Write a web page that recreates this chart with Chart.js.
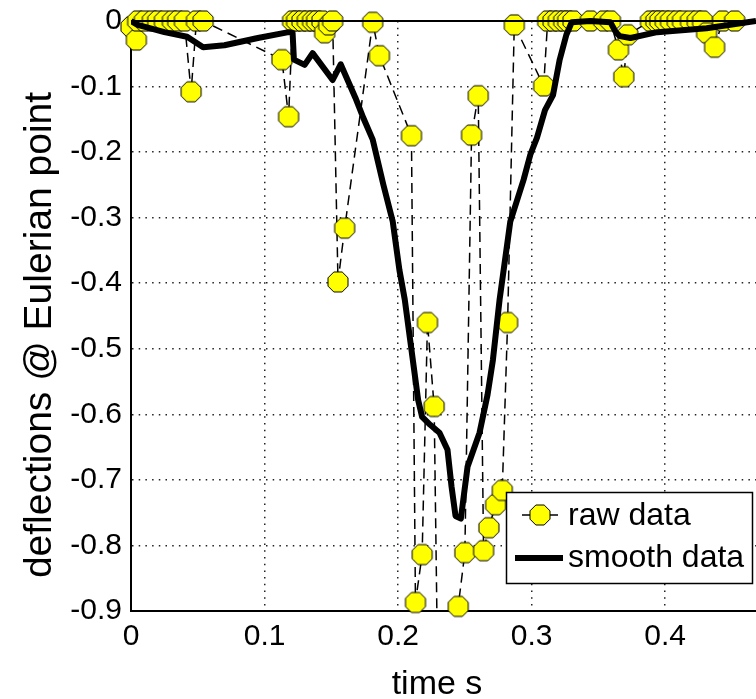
<!DOCTYPE html>
<html>
<head>
<meta charset="utf-8">
<script src="https://cdn.jsdelivr.net/npm/chart.js@4/dist/chart.umd.min.js"></script>
<style>
  html, body { margin: 0; padding: 0; background: #fff; overflow: hidden; }
  #wrap { width: 756px; height: 699px; position: relative; }
</style>
</head>
<body>
<div id="wrap"><canvas id="defl"></canvas></div>
<script>
// raw samples (time in s, deflection at the Eulerian point)
const rawTime = [0, 0.004, 0.005, 0.010, 0.016, 0.020, 0.025, 0.031, 0.035, 0.040,
  0.045, 0.049, 0.054,
  0.113, 0.118, 0.121, 0.124, 0.128, 0.132, 0.136, 0.139, 0.143, 0.145, 0.148, 0.151,
  0.155, 0.160, 0.181, 0.186,
  0.210, 0.213, 0.218, 0.222, 0.227, 0.230,
  0.245, 0.250, 0.255, 0.260, 0.264, 0.268, 0.273, 0.278, 0.282, 0.287,
  0.309, 0.312, 0.316, 0.320, 0.324, 0.327, 0.331,
  0.344, 0.354, 0.359,
  0.365, 0.369, 0.372,
  0.389, 0.393, 0.396, 0.400, 0.404, 0.409, 0.413, 0.419, 0.424, 0.428,
  0.431, 0.437, 0.443, 0.452];
const rawDefl = [-0.009, -0.029, 0, 0, 0, 0, 0, 0, 0, 0,
  -0.108, 0, 0,
  -0.059, -0.146, 0, 0, 0, 0, 0, 0, 0, -0.018, -0.006, 0,
  -0.398, -0.316, -0.002, -0.053,
  -0.175, -0.887, -0.814, -0.460, -0.588, -1.05,
  -0.893, -0.811, -0.174, -0.114, -0.808, -0.773, -0.738, -0.716, -0.460, -0.006,
  -0.099, 0, 0, 0, 0, 0, 0,
  0, 0, 0,
  -0.044, -0.085, -0.021,
  0, 0, 0, 0, 0, 0, 0, 0, 0, 0,
  -0.018, -0.040, 0, 0];

// smoothed curve
const smoothTime = [0, 0.005, 0.025, 0.042, 0.054, 0.070, 0.095, 0.118, 0.121, 0.122,
  0.130, 0.136, 0.151, 0.157, 0.168, 0.174, 0.181, 0.189, 0.196, 0.201, 0.205,
  0.209, 0.212, 0.215, 0.218, 0.224, 0.231, 0.237, 0.240, 0.243, 0.247,
  0.252, 0.261, 0.267, 0.271, 0.276, 0.284, 0.294, 0.299, 0.304, 0.310,
  0.316, 0.321, 0.326, 0.330, 0.344, 0.359, 0.363, 0.366, 0.374, 0.394, 0.431, 0.468];
const smoothDefl = [0, -0.006, -0.017, -0.024, -0.040, -0.037, -0.026, -0.017, -0.018, -0.059,
  -0.067, -0.049, -0.090, -0.066, -0.117, -0.148, -0.181, -0.250, -0.306, -0.380, -0.425,
  -0.486, -0.532, -0.578, -0.604, -0.616, -0.628, -0.654, -0.710, -0.755, -0.759,
  -0.680, -0.628, -0.570, -0.517, -0.425, -0.306, -0.242, -0.204, -0.178, -0.136,
  -0.113, -0.059, -0.021, -0.002, 0, -0.002, -0.017, -0.023, -0.026, -0.017, -0.011, 0];

const xTicks = [0, 0.1, 0.2, 0.3, 0.4];
const yTicks = [0, -0.1, -0.2, -0.3, -0.4, -0.5, -0.6, -0.7, -0.8, -0.9];

const FONT = '"Liberation Sans", Arial, Helvetica, sans-serif';
Chart.defaults.font.family = FONT;
Chart.defaults.color = '#000';

// yellow octagon marker
function makeOctagon(r) {
  const R = r / Math.cos(Math.PI / 8);
  const s = Math.ceil(2 * R) + 2;
  const c = document.createElement('canvas');
  c.width = c.height = s;
  const g = c.getContext('2d');
  g.beginPath();
  for (let k = 0; k < 8; k++) {
    const a = Math.PI / 8 + k * Math.PI / 4;
    const px = s / 2 + R * Math.cos(a), py = s / 2 + R * Math.sin(a);
    k ? g.lineTo(px, py) : g.moveTo(px, py);
  }
  g.closePath();
  g.fillStyle = '#ffff00';
  g.fill();
  g.lineWidth = 1;
  g.strokeStyle = '#000';
  g.stroke();
  return c;
}
const octagon = makeOctagon(10);

const rawPts = rawTime.map((t, i) => ({ x: t, y: rawDefl[i] }));
const smoothPts = smoothTime.map((t, i) => ({ x: t, y: smoothDefl[i] }));

// top edge of the axes box, drawn over the data
const topEdge = {
  id: 'topEdge',
  afterDatasetsDraw(chart) {
    const { ctx, chartArea: a } = chart;
    ctx.save();
    ctx.strokeStyle = '#000';
    ctx.lineWidth = 2;
    ctx.beginPath();
    ctx.moveTo(a.left, a.top);
    ctx.lineTo(a.right, a.top);
    ctx.stroke();
    ctx.restore();
  }
};

// axis titles, placed by hand (wider spacing than the scale title would give)
const axisTitles = {
  id: 'axisTitles',
  afterDraw(chart) {
    const { ctx } = chart;
    const sx = chart.options.scales.x.title, sy = chart.options.scales.y.title;
    ctx.save();
    ctx.fillStyle = '#000';
    ctx.textAlign = 'center';
    ctx.textBaseline = 'alphabetic';
    ctx.font = '34px ' + FONT;
    ctx.fillText(sx.text, 437, 694);
    ctx.translate(51, 335);
    ctx.rotate(-Math.PI / 2);
    ctx.font = '39px ' + FONT;
    ctx.fillText(sy.text, 0, 0);
    ctx.restore();
  }
};

// legend box in the lower right corner
const legendBox = {
  id: 'legendBox',
  afterDraw(chart) {
    const { ctx, chartArea: a } = chart;
    const ds = chart.data.datasets;
    const x = a.right - 250, y = a.bottom - 119, w = 246, h = 91;
    ctx.save();
    ctx.fillStyle = '#fff';
    ctx.fillRect(x, y, w, h);
    ctx.strokeStyle = '#000';
    ctx.lineWidth = 1.5;
    ctx.strokeRect(x + 0.5, y + 0.5, w, h);

    const r1 = y + 23, r2 = y + 66;
    ctx.lineWidth = 1.5;
    ctx.beginPath();
    ctx.moveTo(x + 16, r1);
    ctx.lineTo(x + 52, r1);
    ctx.stroke();
    ctx.drawImage(octagon, x + 34 - octagon.width / 2, r1 - octagon.height / 2);

    ctx.lineWidth = 6;
    ctx.beginPath();
    ctx.moveTo(x + 9, r2);
    ctx.lineTo(x + 57, r2);
    ctx.stroke();

    ctx.fillStyle = '#000';
    ctx.font = '32px ' + FONT;
    ctx.textBaseline = 'middle';
    ctx.fillText(ds[2].label, x + 62, r1 + 1);
    ctx.fillText(ds[0].label, x + 62, r2);
    ctx.restore();
  }
};

new Chart(document.getElementById('defl'), {
  type: 'line',
  data: {
    datasets: [
      {
        label: 'smooth data',
        data: smoothPts,
        borderColor: '#000',
        borderWidth: 6,
        borderJoinStyle: 'round',
        pointRadius: 0,
        tension: 0,
        clip: { left: 0, top: 4, right: 0, bottom: 0 },
        order: 0
      },
      {
        label: 'raw data',
        data: rawPts,
        showLine: false,
        pointStyle: octagon,
        pointRadius: 10,
        clip: { left: 12, top: 12, right: 12, bottom: 10 },
        order: 1
      },
      {
        label: 'raw data',
        data: rawPts,
        borderColor: '#000',
        borderWidth: 1.5,
        borderDash: [10, 6],
        pointRadius: 0,
        tension: 0,
        clip: { left: 0, top: 2, right: 0, bottom: 0 },
        order: 2
      }
    ]
  },
  options: {
    responsive: true,
    maintainAspectRatio: false,
    devicePixelRatio: 1,
    animation: false,
    layout: { autoPadding: false, padding: { top: 21, right: 0, bottom: 0, left: 0 } },
    plugins: { legend: { display: false }, tooltip: { enabled: false } },
    scales: {
      x: {
        type: 'linear',
        min: 0,
        max: 0.468,
        afterFit: s => { s.height = 88; s.paddingLeft = 0; s.paddingRight = 0; },
        afterBuildTicks: s => { s.ticks = xTicks.map(v => ({ value: v })); },
        ticks: {
          includeBounds: false,
          padding: 8,
          font: { size: 30 },
          callback: v => String(v)
        },
        grid: { color: '#222', lineWidth: 1.5, drawTicks: false },
        border: { display: true, color: '#000', width: 2, dash: [1.5, 5.2] },
        title: { display: false, text: 'time s' }
      },
      y: {
        type: 'linear',
        min: -0.9,
        max: 0,
        afterFit: s => { s.width = 131; s.paddingTop = 0; s.paddingBottom = 0; },
        afterBuildTicks: s => { s.ticks = yTicks.map(v => ({ value: v })); },
        ticks: {
          padding: 9,
          font: { size: 30 },
          callback: v => (v === 0 ? '0' : v.toFixed(1))
        },
        grid: { color: '#222', lineWidth: 1.5, drawTicks: false },
        border: { display: true, color: '#000', width: 2, dash: [1.5, 5.2] },
        title: { display: false, text: 'deflections @ Eulerian point' }
      }
    }
  },
  plugins: [topEdge, axisTitles, legendBox]
});
</script>
</body>
</html>
